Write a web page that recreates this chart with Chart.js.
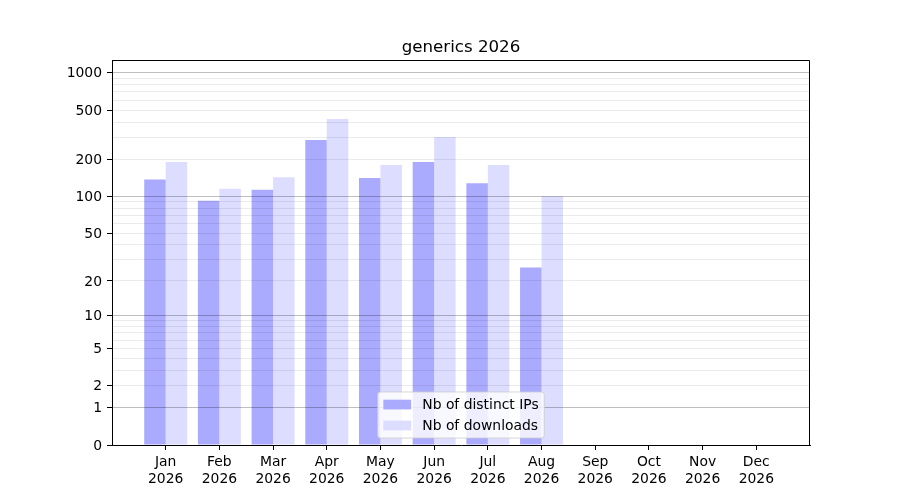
<!DOCTYPE html>
<html>
<head>
<meta charset="utf-8">
<title>generics 2026</title>
<script src="https://cdn.jsdelivr.net/npm/chart.js@4.4.1/dist/chart.umd.min.js"></script>
<style>
  html, body { margin: 0; padding: 0; background: #fff; }
  #chart { display: block; }
</style>
</head>
<body>
<canvas id="chart" width="900" height="500"></canvas>
<script>
// ── DATA ──────────────────────────────────────────────────────────────────────

const chartTitle = "generics 2026";
const months = ["Jan", "Feb", "Mar", "Apr", "May", "Jun", "Jul", "Aug", "Sep", "Oct", "Nov", "Dec"];
const year = "2026";
const seriesLabels = ["Nb of distinct IPs", "Nb of downloads"];
const distinctIPs = [137, 92, 113, 286, 141, 190, 128, 26, 0, 0, 0, 0];
const downloads = [190, 115, 143, 423, 180, 303, 180, 100, 0, 0, 0, 0];

const yLabelTicks = [0, 1, 2, 5, 10, 20, 50, 100, 200, 500, 1000];
const yMajorTicks = [1, 10, 100, 1000];
const yMinorTicks = [3, 4, 6, 7, 8, 9, 30, 40, 60, 70, 80, 90, 300, 400, 600, 700, 800, 900];
const yMax = 1267;

const FONT_SIZE = 13.9;
Chart.defaults.font.family = "'DejaVu Sans', sans-serif";
Chart.defaults.font.size = FONT_SIZE;
Chart.defaults.color = "#000";

// ── LOG(1 + x) SCALE ─────────────────────────────────────────────────────────

class Log1pScale extends Chart.LinearScale {
  determineDataLimits() {
    this.min = this.options.min ?? 0;
    this.max = this.options.max ?? 1;
  }

  buildTicks() {
    const values = [...new Set([...yLabelTicks, ...yMinorTicks])].sort((a, b) => a - b);
    return values.filter(v => v >= this.min && v <= this.max).map(v => ({ value: v }));
  }

  configure() {
    super.configure();
    this._lo = Math.log10(1 + this.min);
    this._hi = Math.log10(1 + this.max);
  }

  getPixelForValue(value) {
    return this.getPixelForDecimal((Math.log10(1 + value) - this._lo) / (this._hi - this._lo));
  }

  getValueForPixel(pixel) {
    return Math.pow(10, this._lo + this.getDecimalForPixel(pixel) * (this._hi - this._lo)) - 1;
  }
}
Log1pScale.id = "log1p";
Log1pScale.defaults = {};
Chart.register(Log1pScale);

// ── FRAME + LEGEND (matplotlib style, lower center inside the axes) ─────────

const frameAndLegend = {
  id: "frameAndLegend",
  afterDraw(chart) {
    const { ctx, chartArea } = chart;
    const fs = FONT_SIZE;
    ctx.save();

    // top and right spines
    ctx.strokeStyle = "#000";
    ctx.lineWidth = 1;
    ctx.beginPath();
    const l = Math.round(chartArea.left) + 0.5;
    const r = Math.round(chartArea.right) - 0.5;
    const t = Math.round(chartArea.top) + 0.5;
    const b = Math.round(chartArea.bottom);
    ctx.moveTo(l, t);
    ctx.lineTo(r, t);
    ctx.lineTo(r, b);
    ctx.stroke();

    const pad = 0.4 * fs, handle = 2 * fs, handleH = 0.7 * fs, textPad = 0.8 * fs;
    const rowGap = 0.5 * fs, rowH = 14;
    ctx.font = `${fs}px 'DejaVu Sans', sans-serif`;
    const items = chart.data.datasets.map(ds => ({ label: ds.label, color: ds.backgroundColor }));
    const textW = Math.max(...items.map(it => ctx.measureText(it.label).width));
    const w = 2 * pad + handle + textPad + textW;
    const h = 2 * pad + items.length * rowH + (items.length - 1) * rowGap;
    const left = (chartArea.left + chartArea.right) / 2 - w / 2;
    const top = chartArea.bottom - 0.5 * fs - h;

    ctx.beginPath();
    ctx.roundRect(left, top, w, h, 0.2 * fs);
    ctx.fillStyle = "rgba(255, 255, 255, 0.8)";
    ctx.fill();
    ctx.strokeStyle = "rgba(204, 204, 204, 0.8)";
    ctx.stroke();

    items.forEach((it, i) => {
      const cy = top + pad + i * (rowH + rowGap) + rowH / 2;
      ctx.fillStyle = it.color;
      ctx.fillRect(left + pad, cy - handleH / 2, handle, handleH);
      ctx.fillStyle = "#000";
      ctx.textAlign = "left";
      ctx.textBaseline = "middle";
      ctx.fillText(it.label, left + pad + handle + textPad, cy + 1);
    });
    ctx.restore();
  }
};

// ── CHART ─────────────────────────────────────────────────────────────────────

const toPoints = values => values.map((v, i) => ({ x: i, y: v }));

new Chart(document.getElementById("chart"), {
  type: "bar",
  data: {
    datasets: [
      { label: seriesLabels[0], data: toPoints(distinctIPs), backgroundColor: "#aaaaff", borderWidth: 0 },
      { label: seriesLabels[1], data: toPoints(downloads), backgroundColor: "#ddddff", borderWidth: 0 }
    ]
  },
  options: {
    responsive: false,
    animation: false,
    devicePixelRatio: 1,
    categoryPercentage: 0.8,
    barPercentage: 1.0,
    layout: { padding: { left: 0, right: 90, top: 0, bottom: 0 } },
    plugins: {
      legend: { display: false },
      tooltip: { enabled: false },
      title: {
        display: true,
        text: chartTitle,
        fullSize: false,
        color: "#000",
        font: { size: 16.67, weight: "normal" },
        padding: { top: 38, bottom: 2 }
      }
    },
    scales: {
      x: {
        type: "linear",
        min: -1,
        max: months.length,
        offset: false,
        afterBuildTicks: scale => { scale.ticks = months.map((m, i) => ({ value: i })); },
        afterFit: scale => { scale.height = 55; },
        ticks: {
          autoSkip: false,
          maxRotation: 0,
          padding: 4,
          callback: value => [months[value], year]
        },
        grid: { offset: false, drawOnChartArea: false, tickLength: 5, tickColor: "#000", tickWidth: 1 },
        border: { color: "#000", width: 1, z: 1 }
      },
      y: {
        type: "log1p",
        min: 0,
        max: yMax,
        afterFit: scale => { scale.width = 112; },
        ticks: {
          autoSkip: false,
          padding: 5,
          labelOffset: 1,
          callback: value => yLabelTicks.includes(value) ? String(value) : ""
        },
        grid: {
          z: 1,
          lineWidth: 1,
          tickLength: 5,
          tickWidth: 1,
          color: ctx => {
            const v = ctx.tick ? ctx.tick.value : null;
            if (v === 0) return "rgba(0, 0, 0, 0)";
            return yMajorTicks.includes(v) ? "rgba(0, 0, 0, 0.25)" : "rgba(0, 0, 0, 0.08)";
          },
          tickColor: ctx => {
            const v = ctx.tick ? ctx.tick.value : null;
            return yLabelTicks.includes(v) ? "#000" : "rgba(0, 0, 0, 0)";
          }
        },
        border: { color: "#000", width: 1, z: 1 }
      }
    }
  },
  plugins: [frameAndLegend]
});
</script>
</body>
</html>
